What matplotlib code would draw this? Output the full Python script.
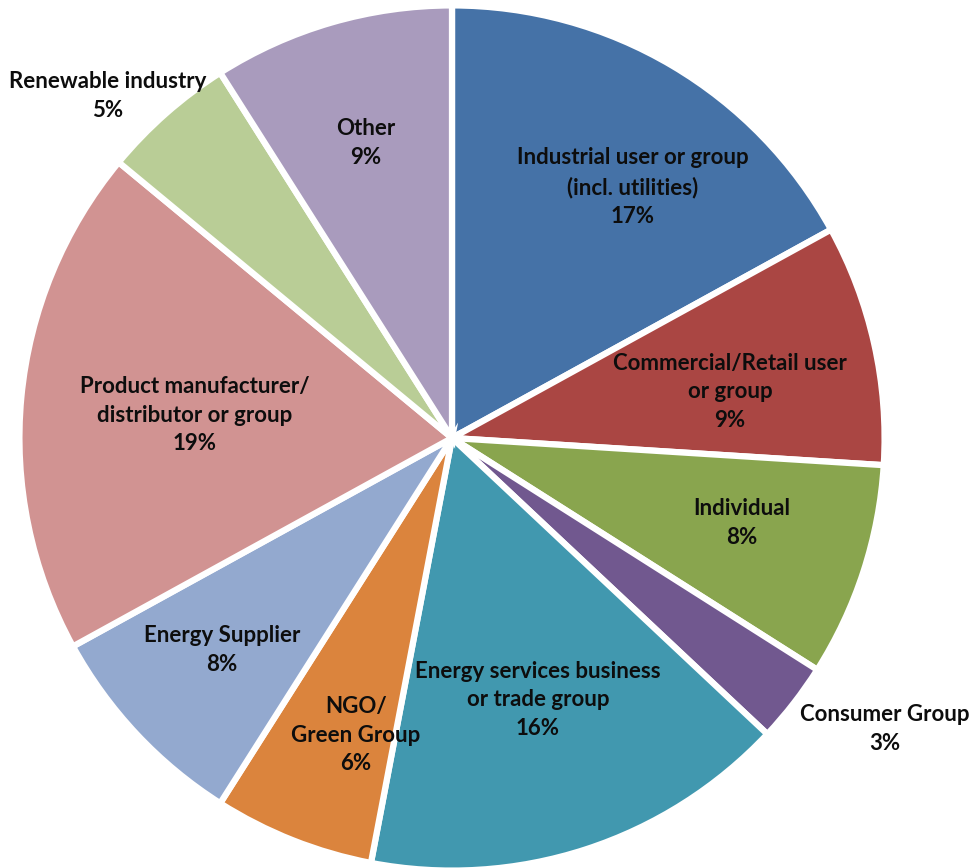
import matplotlib
matplotlib.use("Agg")
import matplotlib.pyplot as plt

categories = [
    "Industrial user or group\n(incl. utilities)",
    "Commercial/Retail user\nor group",
    "Individual",
    "Consumer Group",
    "Energy services business\nor trade group",
    "NGO/\nGreen Group",
    "Energy Supplier",
    "Product manufacturer/\ndistributor or group",
    "Renewable industry",
    "Other",
]
shares = [17, 9, 8, 3, 16, 6, 8, 19, 5, 9]
colors = ["#4572A7", "#AA4643", "#89A54E", "#71588F", "#4198AF",
          "#DB843D", "#93A9CF", "#D19392", "#B9CD96", "#A99BBD"]

# label anchor positions in pixels (layout only)
label_px = [(633, 187), (730, 392), (742, 523), (885, 729), (538, 700),
            (356, 735), (222, 650), (195, 415), (108, 96), (366, 143)]

W, H = 973, 868
CX, CY, S = 452, 438, 430

fig = plt.figure(figsize=(W / 100, H / 100), dpi=100)
ax = fig.add_axes([0, 0, 1, 1])
ax.pie(shares, colors=colors, startangle=90, counterclock=False, radius=1.006,
       wedgeprops=dict(edgecolor="white", linewidth=4.5))
ax.set_xlim(-CX / S, (W - CX) / S)
ax.set_ylim(-(H - CY) / S, CY / S)
ax.set_aspect("auto")
ax.axis("off")

for cat, val, (px, py) in zip(categories, shares, label_px):
    ax.text((px - CX) / S, (CY - py) / S, f"{cat}\n{val}%",
            ha="center", va="center", fontsize=16, fontweight="bold",
            family=["Lato", "DejaVu Sans"], color="#0d0d0d", linespacing=1.45)

fig.savefig("out.png", dpi=100)
